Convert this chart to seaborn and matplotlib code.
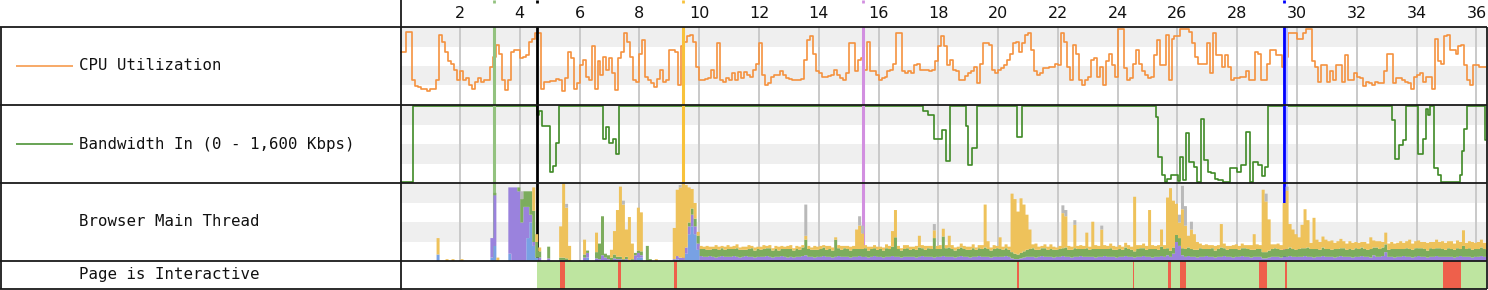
import numpy as np
import pandas as pd
import matplotlib
matplotlib.use("Agg")
import matplotlib.pyplot as plt
from matplotlib.lines import Line2D
from matplotlib.patches import Rectangle
import seaborn as sns

# ---------------- data ----------------
sample_step = 0.1          # seconds per CPU / main-thread sample
t_max = 36.32              # end of the timeline (s)

tick_seconds = list(range(2, 37, 2))

row_labels = ["CPU Utilization", "Bandwidth In (0 - 1,600 Kbps)",
              "Browser Main Thread", "Page is Interactive"]

# CPU utilisation (%) every 0.1 s
cpu_pct = [
    68, 68, 93, 93, 32, 24, 23, 21, 20, 18,
    21, 21, 32, 90, 81, 68, 56, 53, 45, 32,
    44, 32, 35, 26, 21, 29, 35, 29, 32, 32,
    49, 62, 77, 66, 32, 19, 32, 68, 70, 70,
    60, 62, 64, 81, 85, 92, 92, 21, 30, 29,
    31, 31, 33, 32, 18, 34, 68, 60, 21, 28,
    51, 58, 36, 32, 75, 21, 56, 38, 62, 45,
    60, 41, 19, 60, 68, 92, 81, 62, 32, 29,
    66, 83, 36, 32, 28, 23, 33, 45, 30, 32,
    70, 70, 68, 26, 75, 81, 88, 90, 81, 49,
    32, 32, 33, 34, 45, 34, 79, 32, 29, 34,
    32, 41, 32, 42, 34, 42, 38, 36, 45, 53,
    79, 38, 26, 28, 36, 38, 38, 43, 38, 34,
    33, 32, 32, 32, 33, 58, 83, 88, 66, 43,
    41, 36, 36, 37, 38, 45, 38, 34, 32, 41,
    79, 79, 43, 58, 60, 45, 81, 43, 43, 38,
    32, 34, 36, 43, 45, 53, 92, 92, 43, 41,
    43, 41, 51, 53, 45, 45, 45, 43, 45, 56,
    75, 88, 75, 51, 58, 45, 43, 32, 32, 37,
    41, 43, 49, 28, 53, 80, 80, 77, 45, 41,
    45, 47, 51, 58, 66, 79, 81, 68, 79, 90,
    92, 71, 43, 38, 41, 47, 47, 49, 49, 53,
    51, 92, 81, 49, 32, 77, 66, 32, 26, 32,
    36, 58, 60, 36, 49, 26, 56, 66, 51, 36,
    98, 98, 47, 32, 34, 53, 71, 53, 43, 38,
    34, 36, 64, 83, 51, 51, 90, 32, 85, 88,
    88, 98, 98, 97, 94, 79, 62, 53, 53, 53,
    79, 41, 92, 64, 64, 49, 64, 49, 32, 34,
    34, 36, 36, 43, 32, 32, 68, 66, 32, 32,
    53, 71, 71, 64, 64, 49, 62, 92, 92, 92,
    85, 85, 92, 98, 98, 56, 49, 30, 51, 51,
    30, 43, 32, 51, 51, 30, 64, 32, 32, 41,
    36, 34, 24, 30, 28, 26, 30, 28, 28, 43,
    66, 66, 28, 34, 34, 32, 30, 28, 21, 36,
    38, 41, 30, 36, 36, 21, 85, 56, 53, 88,
    90, 71, 71, 66, 75, 77, 51, 32, 26, 51,
    51, 49, 49, 49,
]

# Bandwidth in (Kbps), change points
bw_time = [
    0.00, 0.44, 4.56, 4.65, 4.74, 5.00, 5.10, 5.20, 5.32, 6.78,
    6.90, 6.99, 7.11, 7.22, 7.33, 17.49, 17.66, 17.87, 18.11, 18.25,
    18.39, 18.91, 18.99, 19.13, 19.29, 20.63, 20.81, 25.27, 25.35, 25.49,
    25.58, 25.66, 25.78, 26.01, 26.09, 26.19, 26.28, 26.40, 26.54, 26.65,
    26.80, 26.89, 27.01, 27.12, 27.24, 27.36, 27.53, 27.77, 28.00, 28.12,
    28.29, 28.43, 28.53, 28.70, 28.82, 28.94, 29.02, 33.18, 33.26, 33.42,
    33.56, 33.65, 34.06, 34.20, 34.30, 34.38, 34.46, 34.58, 34.70, 34.80,
    35.45, 35.53, 35.60, 35.68, 36.27, 36.32,
]
bw_kbps = [
    0, 1600, 1408, 1504, 1168, 208, 336, 816, 1600, 912,
    1152, 816, 912, 576, 1600, 1488, 1408, 912, 1088, 432,
    1600, 1168, 352, 704, 1600, 944, 1600, 1376, 528, 144,
    0, 64, 144, 16, 528, 32, 1024, 416, 320, 0,
    1328, 464, 208, 176, 64, 32, 0, 288, 208, 352,
    1056, 0, 416, 352, 112, 320, 1600, 1296, 480, 768,
    880, 1600, 592, 912, 1536, 1408, 1600, 288, 144, 0,
    144, 640, 1120, 1600, 880, 880,
]

# Browser main thread, % busy per 0.1 s bin
layout_pct = [
    0, 0, 0, 0, 0, 0, 0, 0, 0, 0,
    0, 0, 0, 0, 0, 0, 0, 0, 0, 0,
    0, 0, 0, 0, 0, 0, 0, 0, 0, 0,
    25, 65, 0, 0, 0, 0, 85, 95, 95, 90,
    50, 70, 40, 10, 5, 0, 5, 0, 0, 4,
    0, 0, 0, 2, 2, 2, 0, 0, 0, 0,
    0, 5, 6, 0, 0, 4, 3, 8, 5, 3,
    0, 4, 3, 3, 0, 3, 0, 0, 8, 6,
    3, 0, 0, 0, 0, 0, 0, 0, 0, 0,
    0, 3, 4, 5, 5, 8, 10, 15, 10, 8,
    7, 6, 6, 7, 6, 5, 6, 7, 6, 6,
    6, 7, 6, 5, 6, 7, 6, 6, 5, 6,
    6, 6, 7, 6, 5, 6, 6, 7, 6, 5,
    6, 5, 6, 6, 7, 8, 6, 6, 5, 6,
    6, 7, 6, 6, 5, 6, 7, 6, 6, 6,
    5, 6, 6, 7, 6, 6, 5, 6, 7, 6,
    6, 5, 6, 6, 7, 6, 6, 5, 6, 6,
    6, 6, 5, 6, 7, 6, 6, 6, 5, 6,
    6, 7, 6, 6, 6, 5, 6, 7, 6, 6,
    5, 6, 6, 7, 6, 6, 6, 5, 6, 6,
    6, 6, 7, 6, 4, 3, 3, 4, 5, 6,
    6, 6, 5, 6, 7, 6, 6, 6, 5, 6,
    6, 7, 6, 6, 5, 6, 6, 7, 6, 6,
    6, 6, 5, 6, 6, 7, 6, 6, 6, 5,
    6, 6, 7, 6, 6, 5, 6, 6, 7, 6,
    6, 5, 6, 6, 7, 6, 8, 6, 10, 25,
    20, 8, 6, 7, 6, 6, 5, 6, 6, 7,
    6, 6, 5, 6, 6, 7, 6, 6, 5, 6,
    6, 7, 6, 6, 5, 6, 6, 6, 4, 4,
    5, 6, 6, 6, 5, 6, 6, 7, 6, 6,
    6, 6, 7, 6, 6, 5, 6, 6, 7, 6,
    6, 6, 5, 6, 7, 6, 6, 6, 5, 6,
    6, 7, 6, 6, 5, 8, 6, 6, 7, 12,
    6, 6, 5, 6, 6, 7, 6, 6, 5, 6,
    7, 6, 6, 5, 6, 6, 7, 6, 6, 6,
    6, 6, 5, 6, 7, 6, 6, 6, 5, 6,
    6, 7, 6, 6,
]
paint_pct = [
    0, 0, 0, 0, 0, 0, 0, 0, 0, 0,
    0, 0, 0, 0, 0, 0, 0, 0, 0, 0,
    0, 0, 0, 0, 0, 0, 0, 0, 0, 0,
    0, 3, 0, 0, 0, 0, 0, 0, 0, 5,
    30, 20, 20, 30, 40, 20, 8, 0, 0, 15,
    0, 0, 0, 3, 3, 2, 0, 0, 0, 0,
    0, 4, 3, 0, 0, 8, 20, 50, 5, 5,
    5, 5, 3, 3, 3, 3, 0, 3, 3, 3,
    5, 0, 20, 3, 0, 0, 0, 0, 0, 0,
    0, 0, 0, 0, 0, 0, 5, 8, 10, 10,
    9, 10, 9, 8, 10, 11, 9, 10, 9, 10,
    10, 9, 11, 10, 9, 8, 10, 11, 9, 10,
    9, 10, 10, 11, 9, 10, 8, 9, 10, 11,
    10, 9, 10, 9, 11, 20, 10, 9, 10, 9,
    10, 11, 9, 10, 9, 22, 10, 9, 11, 10,
    9, 10, 10, 9, 10, 11, 9, 10, 10, 9,
    10, 9, 11, 10, 12, 25, 10, 9, 10, 11,
    9, 10, 10, 12, 10, 9, 11, 10, 25, 10,
    10, 25, 11, 12, 10, 9, 10, 11, 10, 9,
    10, 11, 9, 10, 10, 12, 10, 9, 10, 11,
    10, 9, 10, 9, 8, 7, 6, 7, 8, 9,
    10, 11, 10, 9, 10, 11, 9, 10, 10, 9,
    10, 10, 12, 9, 10, 11, 10, 9, 10, 11,
    9, 10, 11, 10, 10, 9, 10, 11, 9, 10,
    10, 9, 11, 10, 9, 8, 10, 11, 10, 9,
    10, 11, 10, 9, 12, 10, 9, 8, 8, 9,
    10, 9, 10, 11, 10, 9, 10, 11, 10, 9,
    10, 11, 9, 10, 12, 10, 9, 10, 11, 10,
    9, 10, 11, 10, 10, 9, 10, 10, 8, 8,
    9, 10, 11, 10, 10, 9, 10, 11, 10, 9,
    10, 11, 10, 12, 10, 11, 10, 9, 11, 10,
    10, 9, 11, 10, 10, 11, 9, 10, 10, 11,
    10, 11, 10, 9, 11, 10, 12, 10, 11, 10,
    9, 10, 11, 10, 10, 9, 11, 10, 10, 11,
    10, 11, 10, 9, 11, 10, 10, 11, 10, 9,
    11, 10, 10, 11, 9, 14, 10, 11, 10, 10,
    10, 11, 10, 9,
]
script_pct = [
    0, 0, 0, 0, 0, 0, 0, 0, 0, 0,
    0, 0, 21, 0, 0, 3, 0, 3, 0, 0,
    3, 0, 0, 0, 0, 0, 0, 0, 0, 0,
    0, 0, 5, 0, 0, 0, 0, 0, 0, 0,
    0, 0, 0, 0, 30, 10, 5, 0, 0, 0,
    0, 0, 0, 40, 95, 65, 20, 0, 0, 0,
    0, 19, 0, 0, 0, 25, 0, 0, 0, 0,
    10, 30, 60, 90, 70, 35, 57, 20, 0, 55,
    50, 0, 0, 0, 0, 3, 0, 0, 0, 0,
    0, 40, 85, 90, 95, 80, 45, 25, 20, 5,
    4, 3, 5, 4, 3, 5, 4, 3, 4, 5,
    3, 4, 5, 3, 4, 4, 5, 3, 4, 3,
    4, 5, 3, 4, 3, 4, 5, 4, 3, 4,
    5, 3, 4, 4, 3, 5, 4, 3, 5, 4,
    4, 3, 5, 4, 4, 3, 4, 5, 3, 4,
    5, 4, 25, 30, 20, 4, 5, 3, 4, 4,
    3, 4, 5, 4, 20, 35, 4, 3, 5, 4,
    4, 3, 5, 15, 4, 5, 3, 4, 10, 4,
    5, 10, 4, 15, 5, 4, 3, 5, 4, 4,
    4, 5, 3, 4, 5, 55, 10, 4, 5, 3,
    15, 4, 5, 4, 75, 70, 55, 70, 60, 45,
    25, 5, 8, 4, 3, 5, 4, 6, 4, 3,
    4, 45, 40, 5, 4, 30, 4, 5, 4, 20,
    4, 35, 5, 4, 25, 5, 4, 6, 5, 4,
    5, 4, 6, 5, 4, 70, 5, 4, 6, 5,
    50, 5, 4, 6, 22, 5, 65, 80, 60, 40,
    20, 50, 30, 15, 25, 20, 10, 6, 5, 6,
    5, 4, 6, 5, 30, 6, 5, 4, 5, 6,
    5, 6, 4, 5, 6, 20, 6, 5, 80, 65,
    40, 6, 5, 7, 6, 60, 75, 30, 25, 20,
    15, 30, 50, 35, 8, 40, 12, 10, 14, 12,
    10, 12, 8, 10, 12, 9, 8, 10, 9, 8,
    8, 7, 9, 8, 15, 9, 8, 10, 7, 15,
    8, 9, 7, 8, 10, 8, 9, 12, 8, 9,
    10, 8, 9, 10, 8, 9, 11, 8, 10, 9,
    9, 10, 8, 10, 9, 20, 8, 9, 10, 8,
    9, 10, 8, 9,
]
# sparse series (bin start time, %)
parse_time = [1.2, 3.0, 3.1, 3.6, 4.2, 4.3, 4.4, 4.5, 6.2, 7.9, 8.0,
              9.2, 9.5, 9.6, 9.7, 9.8, 9.9]
parse_pct = [9, 5, 20, 10, 30, 50, 20, 5, 5, 5, 5,
             3, 10, 35, 45, 35, 15]
other_time = [4.0, 5.5, 7.4, 9.3, 13.5, 15.3, 15.4, 17.8, 22.1, 22.2,
              22.5, 23.4, 26.0, 26.1, 26.2, 26.4, 28.9, 29.6]
other_pct = [10, 5, 5, 3, 40, 12, 10, 8, 10, 8,
             6, 5, 10, 30, 25, 10, 10, 5]

# event markers
marker_time = [3.15, 4.57, 9.45, 15.49, 29.57]
marker_color = ["#93c27f", "#000000", "#f8c23a", "#d28fe0", "#0000ff"]
marker_width = [2.2, 2.0, 2.2, 2.2, 2.0]

# page interactivity
interactive_start = 4.57
blocked_start = [5.35, 7.27, 9.16, 20.64, 24.50, 25.67, 26.10, 28.73, 29.58, 34.89]
blocked_end = [5.50, 7.37, 9.25, 20.70, 24.56, 25.78, 26.27, 29.00, 29.68, 35.47]

# ---------------- style ----------------
sns.set_style("white")
plt.rcParams["font.family"] = ["DejaVu Sans"]

W, H = 1488, 290
fig = plt.figure(figsize=(W / 100, H / 100), dpi=100)

X0, X1 = 400.2, 1486.0
def row_axes(y0, y1):
    ax = fig.add_axes([X0 / W, 1 - y1 / H, (X1 - X0) / W, (y1 - y0) / H])
    for s in ax.spines.values():
        s.set_visible(False)
    ax.set_xlim(0, t_max)
    return ax

def fig_line(x0, y0, x1, y1, color="#1a1a1a", lw=1.3, z=10):
    fig.add_artist(Line2D([x0 / W, x1 / W], [1 - y0 / H, 1 - y1 / H],
                          color=color, lw=lw, zorder=z, solid_capstyle="butt"))

band_color = "#efefef"
grid_color = "#c9c9c9"

def bands(ax):
    for yb in (0.25, 0.75):
        ax.add_patch(Rectangle((0, yb), 1, 0.25, transform=ax.transAxes,
                               color=band_color, lw=0, zorder=0))
    for s in tick_seconds:
        ax.axvline(s, color=grid_color, lw=1.4, zorder=1)

def markers(ax, z):
    for t, c, w in zip(marker_time, marker_color, marker_width):
        if c == "#0000ff":
            ax.axvline(t + 0.04, color="#b8c0ff", lw=3.5, zorder=z)
        ax.axvline(t, color=c, lw=w, zorder=z + 0.1)

# ---- CPU row ----
ax_cpu = row_axes(27, 105)
bands(ax_cpu)
cpu_time = np.arange(len(cpu_pct) + 1) * sample_step
cpu_df = pd.DataFrame({"time": cpu_time, "cpu": cpu_pct + [cpu_pct[-1]]})
sns.lineplot(data=cpu_df, x="time", y="cpu", ax=ax_cpu, color="#f5923f",
             lw=1.2, drawstyle="steps-post", estimator=None, errorbar=None,
             zorder=3)
markers(ax_cpu, 4)
ax_cpu.set_ylim(0, 100)
ax_cpu.set_xlim(0, t_max)
ax_cpu.set_yticks([])
ax_cpu.set_xticks(tick_seconds)
ax_cpu.set_xticklabels([str(s) for s in tick_seconds])
ax_cpu.xaxis.set_ticks_position("top")
ax_cpu.tick_params(axis="x", length=0, labeltop=True, labelbottom=False,
                   labelsize=11.5, pad=4, colors="#111111")
ax_cpu.set_xlabel("")
ax_cpu.set_ylabel("")

# ---- Bandwidth row ----
ax_bw = row_axes(105, 183)
bands(ax_bw)
bw_df = pd.DataFrame({"time": bw_time, "kbps": bw_kbps})
sns.lineplot(data=bw_df, x="time", y="kbps", ax=ax_bw, color="#3f8a26",
             lw=1.2, drawstyle="steps-post", estimator=None, errorbar=None,
             zorder=3)
markers(ax_bw, 4)
ax_bw.set_ylim(-27, 1621)
ax_bw.set_xlim(0, t_max)
ax_bw.set_xticks([]); ax_bw.set_yticks([])
ax_bw.set_xlabel(""); ax_bw.set_ylabel("")

# ---- Main thread row ----
ax_mt = row_axes(183, 261)
bands(ax_mt)
markers(ax_mt, 1.5)
n = len(layout_pct)
bin_start = np.round(np.arange(n) * sample_step, 1)
frames = [
    pd.DataFrame({"time": bin_start, "pct": layout_pct, "task": "Layout"}),
    pd.DataFrame({"time": bin_start, "pct": paint_pct, "task": "Painting"}),
    pd.DataFrame({"time": bin_start, "pct": script_pct, "task": "Scripting"}),
    pd.DataFrame({"time": parse_time, "pct": parse_pct, "task": "Parsing"}),
    pd.DataFrame({"time": other_time, "pct": other_pct, "task": "Other"}),
]
mt_df = pd.concat(frames, ignore_index=True)
mt_df["time"] = mt_df["time"] + sample_step / 2
task_colors = {"Parsing": "#78a1e4", "Layout": "#9a82dd", "Painting": "#7cac5d",
               "Scripting": "#eec25b", "Other": "#b9b9b9"}
sns.histplot(data=mt_df, x="time", weights="pct", hue="task",
             hue_order=["Other", "Scripting", "Painting", "Layout", "Parsing"],
             palette=task_colors, multiple="stack", binwidth=sample_step,
             binrange=(0, n * sample_step), element="step", fill=True,
             alpha=1, linewidth=0, legend=False, ax=ax_mt, zorder=3)
ax_mt.set_ylim(0, 100)
ax_mt.set_xlim(0, t_max)
ax_mt.set_xticks([]); ax_mt.set_yticks([])
ax_mt.set_xlabel(""); ax_mt.set_ylabel("")

# ---- Interactive row ----
ax_int = row_axes(261, 289)
ax_int.axvspan(interactive_start, t_max, color="#bee5a0", lw=0, zorder=1)
for s, e in zip(blocked_start, blocked_end):
    ax_int.axvspan(s, e, color="#ee604b", lw=0, zorder=2)
ax_int.set_xlim(0, t_max)
ax_int.set_ylim(0, 1)
ax_int.set_xticks([]); ax_int.set_yticks([])

# ---- frame lines ----
for y in (26.5, 105, 183, 261, 289):
    fig_line(0, y, 1487, y)
fig_line(400.5, 0, 400.5, 290)
fig_line(0.7, 26.5, 0.7, 289)
fig_line(1486.5, 26.5, 1486.5, 289)

# small marker ticks on top edge
for t, c in zip(marker_time, marker_color):
    xp = X0 + t / t_max * (X1 - X0)
    fig_line(xp, 0, xp, 2.5, color=c, lw=2)

# ---- row labels ----
label_font = dict(family="DejaVu Sans Mono", size=11.3, color="#111111",
                  va="center", ha="left")
for lab, yc in zip(row_labels, (66, 144, 222, 275)):
    fig.text(79 / W, 1 - yc / H, lab, **label_font)
fig_line(16, 66, 73, 66, color="#f5923f", lw=1.1)
fig_line(16, 144, 73, 144, color="#3f8a26", lw=1.1)

fig.savefig("out.png", dpi=100)
